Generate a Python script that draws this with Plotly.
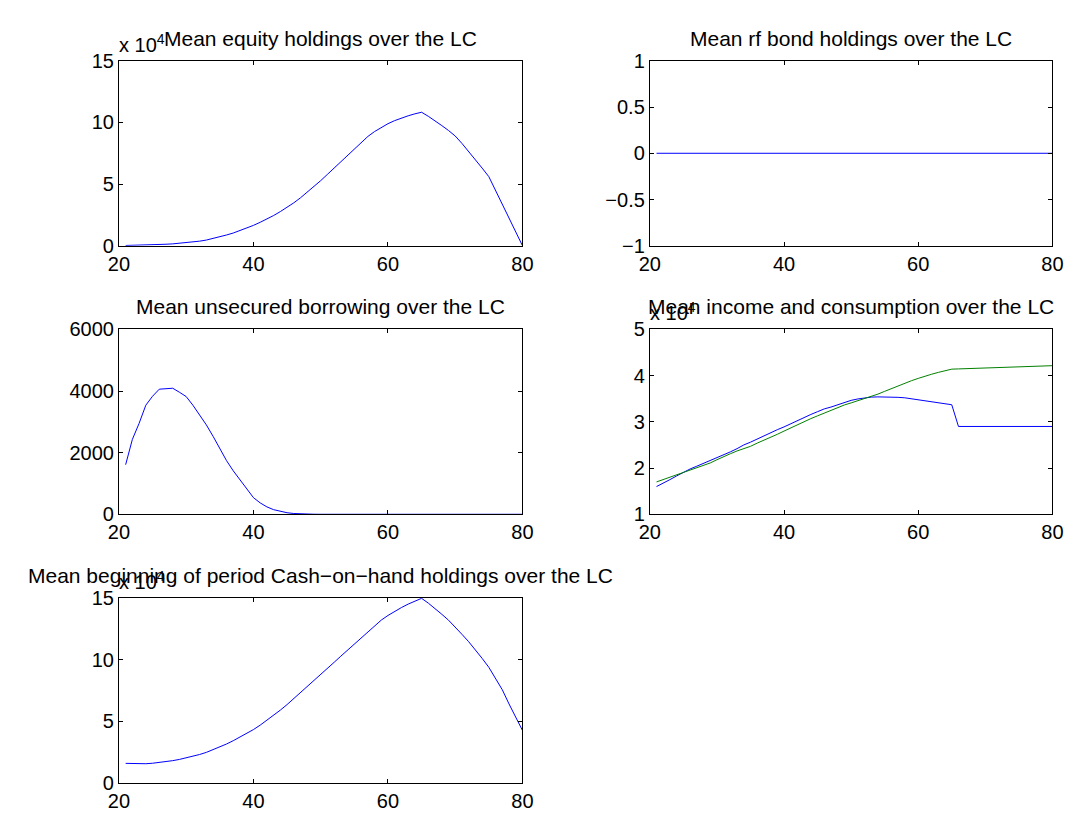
import plotly.graph_objects as go

ages = [21, 22, 23, 24, 25, 26, 27, 28, 29, 30, 31, 32, 33, 34, 35, 36, 37, 38, 39, 40,
        41, 42, 43, 44, 45, 46, 47, 48, 49, 50, 51, 52, 53, 54, 55, 56, 57, 58, 59, 60,
        61, 62, 63, 64, 65, 66, 67, 68, 69, 70, 71, 72, 73, 74, 75, 76, 77, 78, 79, 80]

equity = [200, 300, 400, 500, 700, 900, 1200, 1500, 1900, 2500,
          3000, 3700, 4600, 5800, 7300, 8700, 10300, 12200, 14300, 16500,
          19000, 21500, 24500, 27700, 31000, 34800, 38900, 43300, 47900, 52800,
          57900, 63100, 68400, 73700, 79000, 84000, 88600, 92600, 96000, 99000,
          101500, 103600, 105400, 107000, 108300, 105000, 101500, 97500, 93500, 89000,
          83000, 76500, 70000, 63000, 56000, 45000, 34000, 23000, 11500, 0]

rf_bonds = [0] * 60

borrowing = [1610, 2430, 2950, 3540, 3830, 4060, 4075, 4090, 3960, 3820,
             3540, 3240, 2900, 2530, 2140, 1740, 1410, 1110, 810, 540,
             370, 240, 150, 90, 50, 25, 12, 5, 2, 0,
             0, 0, 0, 0, 0, 0, 0, 0, 0, 0,
             0, 0, 0, 0, 0, 0, 0, 0, 0, 0,
             0, 0, 0, 0, 0, 0, 0, 0, 0, 0]

income = [16000, 16700, 17500, 18300, 19100, 19800, 20400, 21000, 21600, 22200,
          22900, 23500, 24200, 25000, 25600, 26300, 27000, 27700, 28300, 28900,
          29600, 30300, 31000, 31600, 32200, 32800, 33200, 33700, 34200, 34650,
          34950, 35200, 35350, 35400, 35400, 35400, 35300, 35200, 35000, 34800,
          34600, 34400, 34200, 34000, 33700, 29000, 29000, 29000, 29000, 29000,
          29000, 29000, 29000, 29000, 29000, 29000, 29000, 29000, 29000, 29000]

consumption = [17000, 17500, 18000, 18500, 19000, 19500, 20000, 20500, 21100, 21800,
               22500, 23100, 23700, 24200, 24700, 25400, 26000, 26600, 27300, 28000,
               28700, 29400, 30100, 30700, 31300, 31900, 32500, 33100, 33650, 34100,
               34550, 35000, 35450, 36000, 36600, 37200, 37800, 38400, 38900, 39400,
               39900, 40300, 40700, 41100, 41400, 41450, 41500, 41550, 41600, 41650,
               41700, 41750, 41800, 41850, 41900, 41950, 42000, 42050, 42100, 42150]

cash_on_hand = [15800, 15500, 15300, 15500, 15900, 16500, 17200, 18000, 19000, 20200,
                21500, 23000, 24700, 26800, 29000, 31500, 34200, 37000, 40000, 43200,
                46800, 50700, 54600, 59000, 63500, 68300, 73200, 78300, 83300, 88200,
                93000, 97800, 102800, 107800, 112800, 117800, 122800, 127500, 132000, 135800,
                139200, 142200, 145000, 147500, 149700, 145800, 141500, 136800, 132000, 126500,
                120500, 114500, 108000, 101000, 93700, 85000, 75500, 64000, 53500, 42500]

titles = ["Mean equity holdings over the LC",
          "Mean rf bond holdings over the LC",
          "Mean unsecured borrowing over the LC",
          "Mean income and consumption over the LC",
          "Mean beginning of period Cash\u2212on\u2212hand holdings over the LC"]

W, H = 1075, 816
FONT = "Liberation Sans, Arial, Helvetica, sans-serif"
BLUE = "#0000FF"
GREEN = "#008000"

col_px = [(102, 514), (644, 1055)]
row_px = [(43, 233), (319, 509), (595, 785)]

def xdom(c):
    return [col_px[c][0] / W, col_px[c][1] / W]

def ydom(r):
    return [1 - row_px[r][1] / H, 1 - row_px[r][0] / H]

panels = [(0, 0), (0, 1), (1, 0), (1, 1), (2, 0)]

fig = go.Figure()

series = [
    [(equity, BLUE)],
    [(rf_bonds, BLUE)],
    [(borrowing, BLUE)],
    [(income, BLUE), (consumption, GREEN)],
    [(cash_on_hand, BLUE)],
]

for i, lines in enumerate(series):
    ax = "" if i == 0 else str(i + 1)
    for y, col in lines:
        fig.add_trace(go.Scatter(x=ages, y=y, mode="lines",
                                 line=dict(color=col, width=1),
                                 xaxis="x" + ax, yaxis="y" + ax,
                                 showlegend=False, hoverinfo="skip"))

yaxes_cfg = [
    dict(range=[0, 150000], tickvals=[0, 50000, 100000, 150000], ticktext=["0", "5", "10", "15"]),
    dict(range=[-1, 1], tickvals=[-1, -0.5, 0, 0.5, 1], ticktext=["\u22121", "\u22120.5", "0", "0.5", "1"]),
    dict(range=[0, 6000], tickvals=[0, 2000, 4000, 6000], ticktext=["0", "2000", "4000", "6000"]),
    dict(range=[10000, 50000], tickvals=[10000, 20000, 30000, 40000, 50000], ticktext=["1", "2", "3", "4", "5"]),
    dict(range=[0, 150000], tickvals=[0, 50000, 100000, 150000], ticktext=["0", "5", "10", "15"]),
]

common = dict(showline=True, linecolor="black", linewidth=1, mirror="allticks",
              ticks="inside", ticklen=4, tickcolor="black", tickwidth=1,
              showgrid=False, zeroline=False,
              tickfont=dict(family=FONT, size=20, color="black"))

annotations = []
for i, (r, c) in enumerate(panels):
    ax = "" if i == 0 else str(i + 1)
    fig.layout["xaxis" + ax] = dict(domain=xdom(c), anchor="y" + ax, range=[20, 80],
                                    tickvals=[20, 40, 60, 80], **common)
    fig.layout["yaxis" + ax] = dict(domain=ydom(r), anchor="x" + ax, **yaxes_cfg[i], **common)
    cx = (xdom(c)[0] + xdom(c)[1]) / 2
    annotations.append(dict(text=titles[i], x=cx, y=ydom(r)[1], xref="paper", yref="paper",
                            xanchor="center", yanchor="bottom", yshift=9, showarrow=False,
                            font=dict(family=FONT, size=21, color="black")))

for i in [0, 3, 4]:
    r, c = panels[i]
    annotations.append(dict(text="x 10<sup>4</sup>", x=xdom(c)[0], y=ydom(r)[1],
                            xref="paper", yref="paper", xanchor="left", yanchor="bottom",
                            xshift=-2, yshift=3, showarrow=False,
                            font=dict(family=FONT, size=20, color="black")))

fig.update_layout(width=W, height=H, margin=dict(l=0, r=0, t=0, b=0),
                  paper_bgcolor="white", plot_bgcolor="white",
                  annotations=annotations, showlegend=False)

fig.write_html("out.html")
